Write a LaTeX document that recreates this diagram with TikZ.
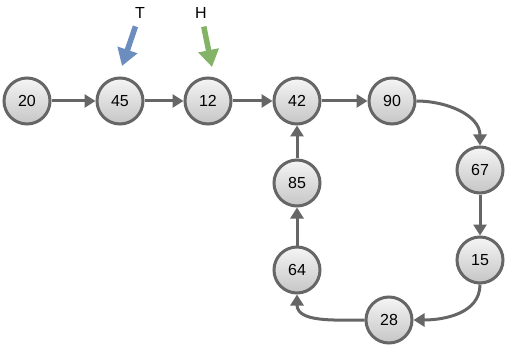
\documentclass[tikz,border=0pt]{standalone}
\usepackage{fontspec}
\setmainfont{Liberation Sans}
\usetikzlibrary{arrows.meta}

\definecolor{edgegray}{HTML}{666666}
\definecolor{tailblue}{HTML}{6C8EBF}
\definecolor{headgreen}{HTML}{82B366}

\tikzset{
  item/.style={circle, draw=edgegray, line width=3pt, minimum size=46pt, inner sep=0pt,
    top color=gray!8, bottom color=gray!45, font=\fontsize{16}{18}\selectfont},
  link/.style={draw=edgegray, line width=3pt, -{Triangle[length=11pt,width=13pt]}},
  pointer/.style={line width=5.5pt, -{Triangle[length=17pt,width=20pt]}},
  tag/.style={font=\fontsize{16}{18}\selectfont, inner sep=1pt}
}

\begin{document}
\begin{tikzpicture}[x=1pt,y=-1pt]
      \useasboundingbox (0,0) rectangle (506,350);

      % Draw list items
      \node[item] (n20) at (27,101) {20};
      \node[item] (n45) at (120,101) {45};
      \node[item] (n12) at (208,101) {12};
      \node[item] (n42) at (297,101) {42};
      \node[item] (n90) at (392,101) {90};
      \node[item] (n67) at (480,170) {67};
      \node[item] (n15) at (480,260) {15};
      \node[item] (n28) at (389,320) {28};
      \node[item] (n64) at (297,270) {64};
      \node[item] (n85) at (297,183) {85};

      % Draw links
      \draw[link] (n20) -- (n45);
      \draw[link] (n45) -- (n12);
      \draw[link] (n12) -- (n42);
      \draw[link] (n42) -- (n90);
      \draw[link] (n90.east) to[out=0,in=90] (n67.north);
      \draw[link] (n67) -- (n15);
      \draw[link] (n15.south) to[out=-90,in=0] (n28.east);
      \draw[link] (n28.west) to[out=180,in=-90] (n64.south);
      \draw[link] (n64) -- (n85);
      \draw[link] (n85) -- (n42);

      % Tail and head pointers
      \node[tag] (T) at (140,13) {T};
      \node[tag] (H) at (201,13) {H};
      \coordinate (tEnd) at (122,66);
      \coordinate (hEnd) at (212,67);
      \draw[pointer, tailblue, shorten <=7pt] (T) -- (tEnd);
      \draw[pointer, headgreen, shorten <=7pt] (H) -- (hEnd);
\end{tikzpicture}
\end{document}
